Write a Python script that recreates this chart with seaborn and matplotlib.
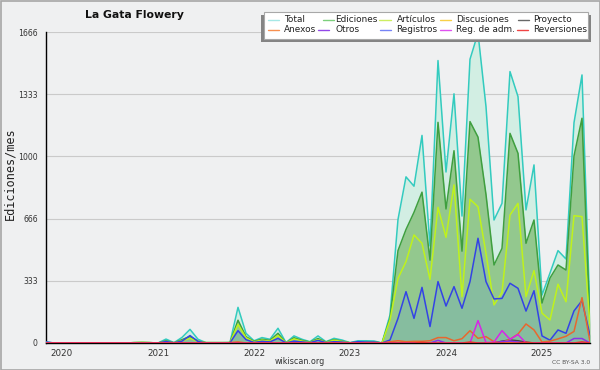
import matplotlib

matplotlib.use("Agg")
import matplotlib.pyplot as plt
from matplotlib.lines import Line2D
from matplotlib.patches import Rectangle
import pandas as pd
import seaborn as sns

# monthly values, Nov 2019 .. Jul 2025
months = pd.period_range("2019-11", "2025-07", freq="M")

total = [6, 0, 0, 0, 0, 0, 0, 0, 0, 0, 0,
         2, 3, 2, 0, 21, 2, 30, 73, 20, 2,
         2, 2, 3, 191, 52, 12, 29, 20, 79, 2,
         38, 20, 7, 38, 7, 25, 16, 2, 12, 12, 11,
         0, 150, 662, 890, 840, 1112, 520, 1513, 916, 1335, 680, 1520, 1660, 1266,
         659, 748, 1454, 1320, 713, 954, 257, 375, 495, 450, 1180, 1436, 150]
ediciones = [1, 0, 0, 0, 0, 0, 0, 0, 0, 0, 0,
             2, 3, 2, 0, 12, 1, 18, 35, 10, 2,
             2, 2, 2, 122, 34, 9, 20, 14, 52, 1,
             28, 14, 5, 24, 5, 18, 10, 1, 5, 7, 6,
             0, 132, 495, 608, 700, 808, 444, 1182, 718, 1030, 492, 1186, 1103, 795,
             418, 507, 1123, 1016, 534, 659, 214, 348, 418, 391, 1002, 1204, 100]
articulos = [0, 0, 0, 0, 0, 0, 0, 0, 0, 0, 0,
             2, 3, 2, 0, 8, 1, 12, 25, 8, 2,
             2, 2, 2, 100, 28, 6, 15, 10, 40, 1,
             22, 10, 3, 18, 3, 15, 8, 1, 3, 5, 4,
             0, 123, 346, 436, 579, 534, 341, 727, 566, 847, 248, 770, 730, 480,
             204, 270, 686, 748, 248, 388, 160, 123, 315, 221, 682, 677, 90]
registros = [5, 0, 0, 0, 0, 0, 0, 0, 0, 0, 0,
             0, 0, 0, 0, 8, 1, 10, 40, 8, 0,
             0, 0, 1, 66, 18, 3, 9, 6, 25, 1,
             10, 6, 2, 14, 2, 7, 5, 1, 7, 5, 5,
             0, 16, 132, 275, 132, 298, 88, 329, 198, 302, 186, 329, 561, 329,
             236, 239, 320, 293, 171, 280, 38, 15, 70, 52, 172, 227, 40]
anexos = [0, 0, 0, 0, 0, 0, 0, 0, 0, 0, 0,
          0, 0, 0, 0, 0, 0, 0, 0, 0, 0,
          0, 0, 2, 6, 0, 0, 0, 0, 0, 0,
          0, 0, 0, 0, 0, 0, 0, 0, 0, 0, 0,
          0, 7, 12, 7, 9, 9, 12, 29, 29, 12, 23, 66, 25, 34,
          7, 2, 20, 48, 102, 70, 5, 10, 22, 36, 62, 243, 7]
reg_adm = [0, 0, 0, 0, 0, 0, 0, 0, 0, 0, 0,
           0, 0, 0, 0, 0, 0, 0, 0, 0, 0,
           0, 0, 0, 0, 0, 0, 0, 0, 0, 0,
           0, 0, 0, 0, 0, 0, 0, 0, 0, 0, 0,
           0, 0, 0, 0, 0, 0, 0, 0, 0, 0, 0, 0, 120, 2,
           5, 66, 20, 45, 0, 0, 0, 0, 0, 0, 0, 0, 0]
otros = [0, 0, 0, 0, 0, 0, 0, 0, 0, 0, 0,
         0, 0, 0, 0, 0, 0, 0, 0, 0, 0,
         0, 0, 0, 0, 0, 0, 0, 0, 0, 0,
         0, 0, 0, 0, 0, 0, 0, 0, 0, 0, 0,
         0, 0, 0, 0, 0, 0, 0, 14, 0, 0, 0, 0, 0, 0,
         0, 8, 10, 5, 0, 0, 0, 0, 0, 0, 24, 24, 0]
proyecto = [0, 0, 0, 0, 0, 0, 0, 0, 0, 0, 0,
            0, 0, 0, 0, 0, 0, 0, 0, 0, 0,
            0, 0, 0, 0, 0, 0, 0, 0, 0, 0,
            0, 0, 0, 0, 0, 0, 0, 0, 0, 0, 0,
            0, 0, 0, 0, 0, 0, 0, 0, 0, 0, 0, 0, 0, 0,
            0, 10, 16, 12, 4, 0, 0, 0, 0, 0, 0, 0, 0]
discusiones = [0, 0, 0, 0, 0, 0, 0, 0, 0, 0, 0,
               0, 0, 0, 0, 0, 0, 0, 0, 0, 0,
               0, 0, 0, 0, 0, 0, 0, 0, 0, 0,
               0, 0, 0, 0, 0, 0, 0, 0, 0, 0, 0,
               0, 0, 3, 0, 0, 0, 0, 4, 0, 0, 0, 3, 0, 0,
               0, 0, 3, 0, 0, 0, 0, 0, 0, 0, 0, 0, 0]
reversiones = [0, 0, 0, 0, 0, 0, 0, 0, 0, 0, 0,
               0, 0, 0, 0, 0, 0, 0, 0, 0, 0,
               0, 0, 0, 0, 0, 0, 0, 0, 0, 0,
               0, 0, 0, 0, 0, 0, 0, 0, 0, 0, 0,
               0, 0, 0, 0, 0, 3, 0, 0, 0, 0, 0, 5, 0, 0,
               0, 0, 0, 0, 4, 0, 0, 0, 0, 0, 0, 6, 0]

y_ticks = [0, 333, 666, 1000, 1333, 1666]

series = {
    "Total": total, "Ediciones": ediciones, "Artículos": articulos,
    "Registros": registros, "Discusiones": discusiones, "Proyecto": proyecto,
    "Anexos": anexos, "Otros": otros, "Reg. de adm.": reg_adm,
    "Reversiones": reversiones,
}
line_colors = {
    "Total": "#33cbbf", "Ediciones": "#3f9f3f", "Artículos": "#bff21c",
    "Registros": "#3343e6", "Discusiones": "#f2c01c", "Proyecto": "#454545",
    "Anexos": "#e8672e", "Otros": "#8a35e8", "Reg. de adm.": "#d824e8",
    "Reversiones": "#e83030",
}
legend_colors = {
    "Total": "#a6e8e6", "Ediciones": "#7ccf7c", "Artículos": "#cdee62",
    "Discusiones": "#f8d048", "Proyecto": "#686868", "Anexos": "#f89050",
    "Otros": "#9248e8", "Registros": "#7684f6", "Reg. de adm.": "#e052f0",
    "Reversiones": "#f04444",
}
legend_order = ["Total", "Ediciones", "Artículos", "Discusiones", "Proyecto",
                "Anexos", "Otros", "Registros", "Reg. de adm.", "Reversiones"]

x = list(range(len(months)))
df = pd.DataFrame(series)
df["mes"] = x
long = df.melt(id_vars="mes", var_name="tipo", value_name="valor")

bg = "#eff0f1"
sns.set_style("white")
plt.rcParams["font.family"] = ["DejaVu Sans"]

W, H = 600, 370
fig = plt.figure(figsize=(W / 100, H / 100), dpi=100, facecolor=bg)
ax = fig.add_axes([46 / W, 1 - 343 / H, 544 / W, 311 / H], facecolor=bg)

# stacked-looking areas
ax.fill_between(x, total, color="#d2eee3", lw=0, zorder=1)
ax.fill_between(x, ediciones, color="#93c88e", lw=0, zorder=1.1)
ax.fill_between(x, registros, color="#86bd9f", lw=0, zorder=1.2)

sns.lineplot(data=long, x="mes", y="valor", hue="tipo", hue_order=list(series),
             palette=line_colors, linewidth=1.1, legend=False, ax=ax, zorder=3)

ax.set_xlim(0, len(months) - 1)
ax.set_ylim(0, 1666)
ax.set_yticks(y_ticks)
ax.set_yticklabels([str(v) for v in y_ticks], fontsize=5.6, color="#333333")
ax.set_yticks([t + d * 333.25 / 4 for t in y_ticks[:-1] for d in (1, 2, 3)], minor=True)
ax.yaxis.grid(True, which="major", color="#cacaca", lw=0.8, zorder=0)
ax.set_axisbelow(True)

year_idx = [i for i, m in enumerate(months) if m.month == 1]
ax.set_xticks(x, minor=True)
ax.set_xticks(year_idx)
ax.set_xticklabels([str(months[i].year) for i in year_idx], fontsize=6.3, color="#333333")
ax.tick_params(axis="both", which="both", direction="out", color="black", width=0.8)
ax.tick_params(axis="y", which="major", length=5, pad=1)
ax.tick_params(axis="y", which="minor", length=3)
ax.tick_params(axis="x", which="both", length=3.5, pad=1)
for side in ("top", "right"):
    ax.spines[side].set_visible(False)
for side in ("left", "bottom"):
    ax.spines[side].set_color("black")
    ax.spines[side].set_linewidth(1)
ax.set_xlabel("")
ax.set_ylabel("")

fig.text(10 / W, 1 - 174 / H, "Ediciones/mes", rotation=90, ha="center", va="center",
         fontsize=8.6, family="DejaVu Sans Mono", color="#222222")
fig.text(134 / W, 1 - 15 / H, "La Gata Flowery", ha="center", va="center",
         fontsize=7.8, fontweight="bold", color="#111111")
fig.text(300 / W, 1 - 362 / H, "wikiscan.org", ha="center", va="center",
         fontsize=5.8, color="#333333")
fig.text(590 / W, 1 - 363 / H, "CC BY-SA 3.0", ha="right", va="center",
         fontsize=4.3, color="#555555")

# legend box with shadow
def px(xp, yp):
    return xp / W, 1 - yp / H

sx, sy = px(261, 41.5)
fig.patches.append(Rectangle((sx, sy), 330 / W, 26.5 / H, transform=fig.transFigure,
                             facecolor="#848484", edgecolor="none", zorder=5))
bx, by = px(264, 38.5)
fig.patches.append(Rectangle((bx, by), 324 / W, 26.5 / H, transform=fig.transFigure,
                             facecolor="white", edgecolor="#a8a8a8", lw=0.8, zorder=6))
col_line = [[267.5, 323, 379.5, 440, 518], [267.5, 318, 380, 440, 517]]
col_text = [[284, 335, 396.5, 456.5, 533], [284, 335, 396, 456.5, 533]]
row_y = [19.5, 29.5]
for i, name in enumerate(legend_order):
    r, c = divmod(i, 5)
    x0 = col_line[r][c]
    fig.add_artist(Line2D([x0 / W, (x0 + 11) / W], [1 - row_y[r] / H] * 2,
                          color=legend_colors[name], lw=1, zorder=7))
    fig.text(col_text[r][c] / W, 1 - row_y[r] / H, name, ha="left", va="center",
             fontsize=6.4, color="#222222", zorder=7)

fig.patches.append(Rectangle((0.5 / W, 0.5 / H), 1 - 1 / W, 1 - 1 / H,
                             transform=fig.transFigure, fill=False,
                             edgecolor="#a6a6a6", lw=1.2, zorder=10))

fig.savefig("out.png", dpi=100, facecolor=bg)
